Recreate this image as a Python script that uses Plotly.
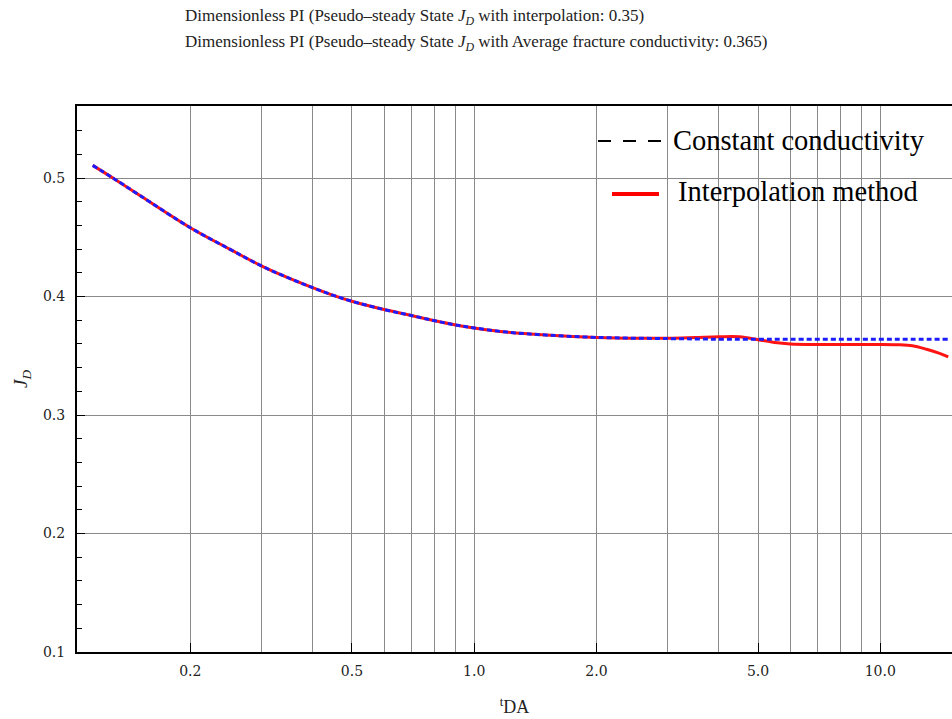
import plotly.graph_objects as go

# ---- data ----
t_const = [0.115, 0.129, 0.15, 0.2, 0.25, 0.3, 0.35, 0.4, 0.45, 0.5, 0.6, 0.7, 0.8, 0.9,
           1.0, 1.2, 1.5, 2.0, 3.0, 4.0, 5.0, 6.0, 8.0, 10.0, 12.0, 14.7]
jd_const = [0.5107, 0.5, 0.4855, 0.4581, 0.440, 0.4257, 0.4155, 0.4075, 0.401, 0.396, 0.389,
            0.384, 0.3795, 0.376, 0.3735, 0.370, 0.3675, 0.3655, 0.3645, 0.364, 0.364, 0.364,
            0.364, 0.364, 0.364, 0.364]

t_interp = [0.115, 0.129, 0.15, 0.2, 0.25, 0.3, 0.35, 0.4, 0.45, 0.5, 0.6, 0.7, 0.8, 0.9,
            1.0, 1.2, 1.5, 2.0, 3.0, 3.5, 4.0, 4.5, 5.0, 5.5, 6.0, 7.0, 8.0, 9.0, 10.0, 11.0,
            12.0, 13.0, 14.0, 14.7]
jd_interp = [0.5107, 0.5, 0.4855, 0.4581, 0.440, 0.4257, 0.4155, 0.4075, 0.401, 0.396, 0.389,
             0.384, 0.3795, 0.376, 0.3735, 0.370, 0.3675, 0.3655, 0.3648, 0.3654, 0.3660,
             0.3660, 0.3636, 0.3612, 0.3600, 0.3595, 0.3595, 0.3595, 0.3596, 0.3594, 0.3585,
             0.3555, 0.352, 0.349]

x_major = [0.2, 0.5, 1.0, 2.0, 5.0, 10.0]
x_major_text = ["0.2", "0.5", "1.0", "2.0", "5.0", "10.0"]
x_minor = [0.3, 0.4, 0.6, 0.7, 0.8, 0.9, 3, 4, 6, 7, 8, 9]
y_major = [0.1, 0.2, 0.3, 0.4, 0.5]
y_major_text = ["0.1", "0.2", "0.3", "0.4", "0.5"]
y_minor = [0.12, 0.14, 0.16, 0.18, 0.22, 0.24, 0.26, 0.28, 0.32, 0.34, 0.36, 0.38,
           0.42, 0.44, 0.46, 0.48, 0.52, 0.54]

title1 = "Dimensionless PI (Pseudo\u2013steady State <i>J</i><sub><i>D</i></sub> with interpolation: 0.35)"
title2 = "Dimensionless PI (Pseudo\u2013steady State <i>J</i><sub><i>D</i></sub> with Average fracture conductivity: 0.365)"
legend_names = ["Constant conductivity", "Interpolation method"]

# ---- layout geometry (pixels) ----
W, H = 952, 719
ML, MR, MT, MB = 77, 0, 106, 67
PW, PH = W - ML - MR, H - MT - MB


def px(xp):
    return (xp - ML) / PW


def py(yp):
    return (H - MB - yp) / PH


SERIF = "Liberation Serif, Times New Roman, serif"
WIDE = "DejaVu Serif, serif"
GRID = "#8a8a8a"

fig = go.Figure()
fig.add_trace(go.Scatter(x=t_interp, y=jd_interp, mode="lines",
                         line=dict(color="#ff1414", width=3, shape="spline"),
                         showlegend=False, name=legend_names[1]))
fig.add_trace(go.Scatter(x=t_const, y=jd_const, mode="lines",
                         line=dict(color="#1c1cff", width=3, dash="5px,3px", shape="spline"),
                         showlegend=False, name=legend_names[0]))

fig.update_layout(
    width=W, height=H,
    margin=dict(l=ML, r=MR, t=MT, b=MB, pad=0),
    paper_bgcolor="white", plot_bgcolor="white",
    font=dict(family=SERIF, color="#222"),
    showlegend=False,
)

fig.update_xaxes(
    type="log", range=[-0.978, 1.1766],
    tickmode="array", tickvals=x_major, ticktext=x_major_text,
    ticks="inside", ticklen=9, tickwidth=1, tickcolor="black",
    tickfont=dict(family=WIDE, size=14, color="#222"),
    ticklabelstandoff=5,
    showgrid=True, gridcolor=GRID, gridwidth=1,
    minor=dict(tickvals=x_minor, showgrid=True, gridcolor=GRID, gridwidth=1, ticks=""),
    showline=True, linecolor="black", linewidth=2, mirror=True, zeroline=False,
    title=dict(text="<sup>t</sup>DA", font=dict(family=SERIF, size=18, color="#222"), standoff=23),
)
fig.update_yaxes(
    range=[0.1, 0.5608],
    tickmode="array", tickvals=y_major, ticktext=y_major_text,
    ticks="inside", ticklen=8, tickwidth=1, tickcolor="black",
    tickfont=dict(family=WIDE, size=14, color="#222"),
    ticklabelstandoff=7,
    showgrid=True, gridcolor=GRID, gridwidth=1,
    minor=dict(tickvals=y_minor, ticks="inside", ticklen=5, tickcolor="black", showgrid=False),
    showline=True, linecolor="black", linewidth=2, mirror=False, zeroline=False,
    title=dict(text="<i>J</i><sub><i>D</i></sub>", font=dict(family=SERIF, size=19, color="#222"), standoff=10),
)

# title lines (left-aligned block)
for txt, yy in [(title1, 17), (title2, 43)]:
    fig.add_annotation(text=txt, xref="paper", yref="paper", x=px(183), y=py(yy),
                       xanchor="left", yanchor="middle", showarrow=False,
                       font=dict(family=SERIF, size=17, color="#222"))

# manual legend (samples drawn as in the reference)
fig.add_shape(type="line", xref="paper", yref="paper", x0=px(598), x1=px(662), y0=py(141), y1=py(141),
              line=dict(color="black", width=2, dash="13px,12px"))
fig.add_shape(type="line", xref="paper", yref="paper", x0=px(612), x1=px(659), y0=py(194), y1=py(194),
              line=dict(color="#ff0000", width=4))
fig.add_annotation(text=legend_names[0], xref="paper", yref="paper", x=px(671), y=py(140),
                   xanchor="left", yanchor="middle", showarrow=False,
                   font=dict(family=SERIF, size=28.5, color="black"))
fig.add_annotation(text=legend_names[1], xref="paper", yref="paper", x=px(676), y=py(191),
                   xanchor="left", yanchor="middle", showarrow=False,
                   font=dict(family=SERIF, size=28.5, color="black"))

fig.write_html("out.html")
